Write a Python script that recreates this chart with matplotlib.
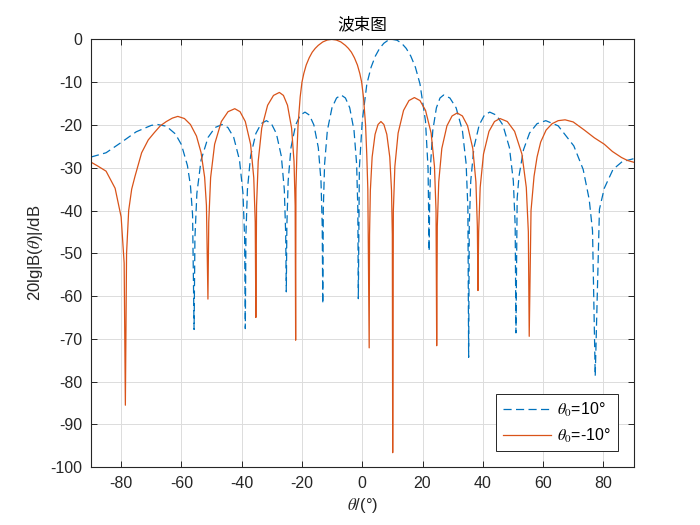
import numpy as np
import matplotlib
matplotlib.use('Agg')
from matplotlib import pyplot as plt

plt.rcParams['font.family'] = ['Liberation Sans', 'Noto Sans CJK SC', 'DejaVu Sans']
plt.rcParams['mathtext.fontset'] = 'stix'
plt.rcParams['axes.unicode_minus'] = False

# theta0 = 10 deg (dashed blue)
blue_theta = [-90, -85, -80, -75, -70, -67.9, -65, -62, -60, -58, -57, -56.3, -55.8,
              -55.52, -54.87, -53.48, -51.15, -48.83, -46.5, -44.58, -42.65, -40.73, -39.57, -39.03, -38.8,
              -38.59, -38.1, -37.05, -35.3, -33.55, -31.8, -30.15, -28.5, -26.85, -25.86, -25.4, -25.2,
              -25.01, -24.58, -23.65, -22.1, -20.55, -19.0, -17.53, -16.05, -14.58, -13.69, -13.28, -13.1,
              -12.92, -12.49, -11.58, -10.05, -8.53, -7.0, -5.58, -4.15, -2.73, -1.87, -1.47, -1.3,
              -0.96, 0.0, 1.53, 2.94, 4.35, 5.76, 7.17, 8.59, 10.0, 11.53, 13.05, 14.58, 16.1, 17.63, 19.15, 20.98, 21.83, 22.2,
              22.34, 22.68, 23.4, 24.6, 25.8, 27.0, 29.08, 31.15, 33.23, 34.47, 35.05, 35.3,
              35.51, 36.0, 37.05, 38.8, 40.55, 42.3, 44.48, 46.65, 48.83, 50.13, 50.74, 51.0,
              51.4, 52.0, 53.5, 55.5, 58.0, 60.9, 65.0, 70.2, 73.3, 75.3, 76.4, 77.3,
              78.7, 80.3, 83.2, 86.2, 90]
blue_db = [-27.5, -26.5, -24.1, -21.6, -20.1, -19.9, -20.3, -22.1, -24.6, -29.5, -34.2, -41.0, -67.8,
           -46.4, -36.0, -28.2, -22.9, -20.6, -19.9, -20.6, -22.9, -28.2, -36.0, -46.4, -67.6,
           -45.5, -35.1, -27.3, -22.0, -19.7, -19.0, -19.7, -22.0, -27.3, -35.1, -45.5, -59.0,
           -43.5, -33.1, -25.3, -20.0, -17.7, -17.0, -17.7, -20.0, -25.3, -33.1, -43.5, -61.8,
           -39.5, -29.1, -21.3, -16.0, -13.7, -13.0, -13.7, -16.0, -21.3, -29.1, -39.5, -60.6,
           -30.1, -19.1, -10.4, -6.5, -3.9, -2.1, -0.9, -0.2, 0.0, -0.2, -0.9, -2.1, -3.9, -6.5, -10.4, -19.1, -30.1, -49.5,
           -39.5, -29.1, -21.3, -16.0, -13.7, -13.0, -13.7, -16.0, -21.3, -29.1, -39.5, -74.3,
           -43.5, -33.1, -25.3, -20.0, -17.7, -17.0, -17.7, -20.0, -25.3, -33.1, -43.5, -68.6,
           -37.2, -32.0, -25.8, -21.9, -19.7, -19.0, -20.2, -24.9, -30.4, -37.4, -44.7, -78.7,
           -39.7, -34.8, -30.4, -28.6, -27.9]

# theta0 = -10 deg (solid red)
red_theta = [-90, -88, -85, -82, -80, -79, -78.6,
             -78.2, -77.5, -76.5, -75.4, -73.2, -71, -69, -67, -65, -63, -61.2, -59, -57, -55, -53.5, -52.3, -51.7, -51.2,
             -50.93, -50.31, -48.98, -46.75, -44.53, -42.3, -40.55, -38.8, -37.05, -36.0, -35.51, -35.3,
             -35.07, -34.52, -33.35, -31.4, -29.45, -27.5, -26.15, -24.8, -23.45, -22.64, -22.26, -22.1,
             -22.0, -21.7, -21.3, -20.6, -20.0, -19.4, -18.6, -17.6, -16.6, -15.6, -14.6, -13.1, -11.6, -10.1,
             -8.6, -7.1, -5.6, -4.6, -3.6, -2.6, -1.6, -0.8, -0.2, 0.4, 1.1, 1.5, 1.85, 2.3,
             2.42, 2.69, 3.28, 4.25, 5.23, 6.2, 7.18, 8.15, 9.13, 9.71, 9.98, 10.1,
             10.32, 10.82, 11.9, 13.7, 15.5, 17.3, 19.15, 21.0, 22.85, 23.96, 24.48, 24.7,
             24.9, 25.38, 26.4, 28.1, 29.8, 31.5, 33.23, 34.95, 36.68, 37.71, 38.19, 38.4,
             38.62, 39.13, 40.23, 42.05, 43.88, 45.7, 48.13, 50.55, 52.98, 54.43, 55.11, 55.4,
             56, 57, 58, 59.2, 61, 63, 65, 67.3, 70, 73.7, 77, 80.3, 83, 86, 88, 90]
red_db = [-28.7, -29.5, -30.8, -34.8, -41.5, -52.3, -85.5,
          -50.0, -40.0, -35.0, -32.0, -26.5, -23.5, -21.8, -20.2, -19.2, -18.4, -18.0, -18.5, -19.9, -22.6, -26.4, -32.2, -38.8, -60.7,
          -42.7, -32.3, -24.5, -19.2, -16.9, -16.2, -16.9, -19.2, -24.5, -32.3, -42.7, -65.0,
          -38.9, -28.5, -20.7, -15.4, -13.1, -12.4, -13.1, -15.4, -20.7, -28.5, -38.9, -70.3,
          -35.0, -27.0, -20.0, -13.5, -10.0, -8.0, -6.0, -4.3, -3.0, -2.1, -1.4, -0.6, -0.15, 0.0,
          -0.15, -0.6, -1.4, -2.1, -3.0, -4.3, -6.0, -8.0, -10.0, -13.5, -20.0, -27.0, -35.0, -72.1,
          -45.7, -35.3, -27.5, -22.2, -19.9, -19.2, -19.9, -22.2, -27.5, -35.3, -45.7, -96.6,
          -40.1, -29.7, -21.9, -16.6, -14.3, -13.6, -14.3, -16.6, -21.9, -29.7, -40.1, -71.6,
          -43.7, -33.3, -25.5, -20.2, -17.9, -17.2, -17.9, -20.2, -25.5, -33.3, -43.7, -58.7,
          -45.0, -34.6, -26.8, -21.5, -19.2, -18.5, -19.2, -21.5, -26.8, -34.6, -45.0, -69.4,
          -40.0, -32.0, -27.5, -24.0, -21.2, -19.7, -19.0, -18.8, -19.3, -21.2, -23.0, -24.5, -26.2, -27.6, -28.3, -28.7]

x_ticks = [-80, -60, -40, -20, 0, 20, 40, 60, 80]
y_ticks = [0, -10, -20, -30, -40, -50, -60, -70, -80, -90, -100]
labels = [r'$\theta_0$=10°', r'$\theta_0$=-10°']

axis_col = '#262626'
fig = plt.figure(figsize=(7, 5.25), dpi=100)
ax = fig.add_axes([0.13, 0.11, 0.775, 0.815])

ax.plot(blue_theta, blue_db, color='#0072BD', lw=0.9, linestyle=(0, (6.5, 3.5)), label=labels[0])
ax.plot(red_theta, red_db, color='#D95319', lw=0.9, label=labels[1])

ax.set_xlim(-90, 90)
ax.set_ylim(-100, 0)
ax.set_xticks(x_ticks)
ax.set_yticks(y_ticks)
ax.grid(True, color='#DCDCDC', lw=0.7)
ax.set_axisbelow(True)
ax.tick_params(direction='in', length=4, width=0.7, top=True, right=True,
               labelsize=11.5, colors=axis_col, pad=6)
for s in ax.spines.values():
    s.set_color(axis_col)
    s.set_linewidth(0.8)

ax.set_title('波束图', fontsize=12, color='black', pad=7)
ax.set_xlabel(r'$\theta$/(°)', fontsize=12, color=axis_col)
ax.set_ylabel(r'20lg|B($\theta$)|/dB', fontsize=12, color=axis_col)

leg = ax.legend(loc='lower right', fontsize=11.5, handlelength=3.0, handletextpad=0.4,
                fancybox=False, framealpha=1, edgecolor=axis_col, borderaxespad=1.0,
                labelspacing=0.5)
leg.get_frame().set_linewidth(0.7)

plt.savefig('out.png', dpi=100)
